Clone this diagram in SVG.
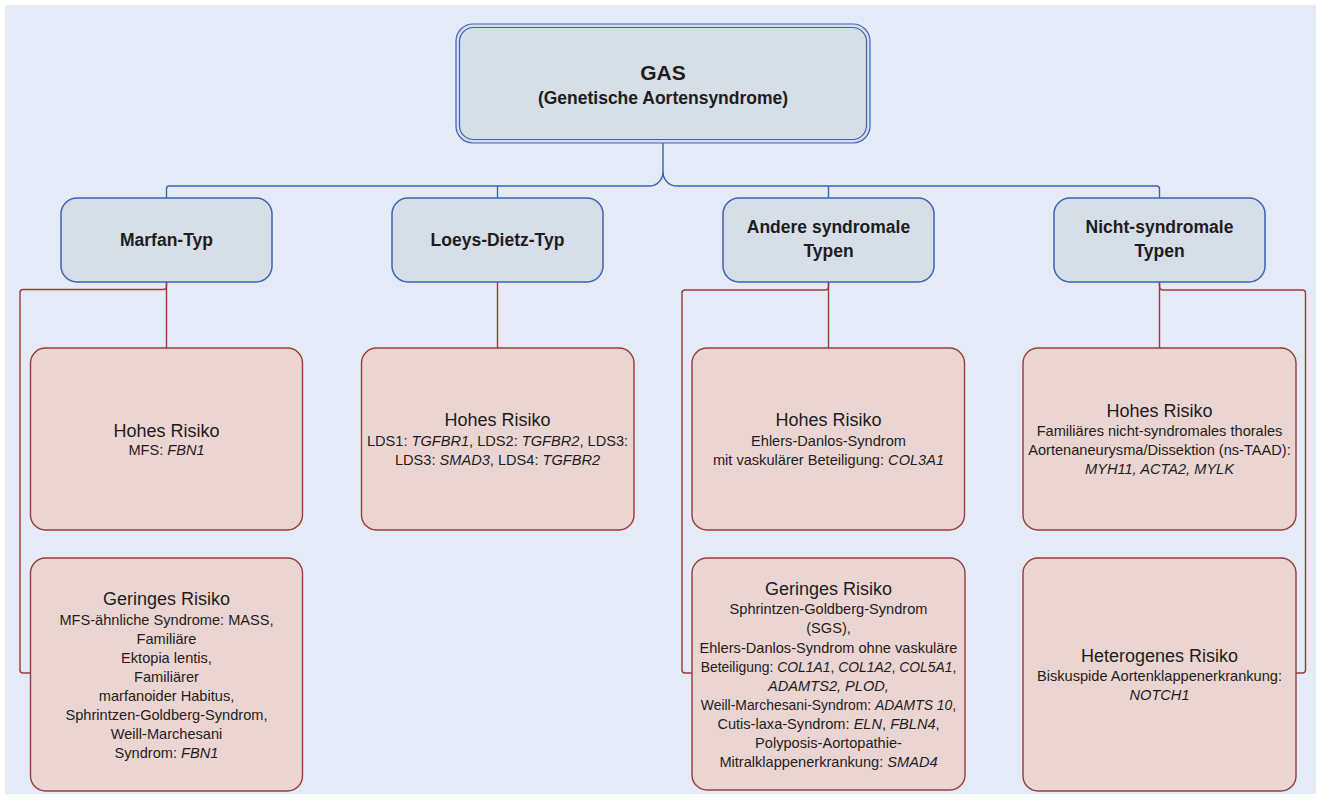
<svg xmlns="http://www.w3.org/2000/svg" width="1320" height="803" viewBox="0 0 1320 803">
<style>
text{font-family:"Liberation Sans",Arial,sans-serif;fill:#1e1c1c;text-anchor:middle}
.bn{fill:#d6dee8;stroke:#3b63b3;stroke-width:1.5}
.rn{fill:#ebd5d2;stroke:#9a3b37;stroke-width:1.4}
.bl{fill:none;stroke:#3b63b3;stroke-width:1.4}
.rl{fill:none;stroke:#9a3b37;stroke-width:1.4}
.h{font-size:17.5px;font-weight:bold}
.t{font-size:18px}
.b{font-size:14.6px}
.s{font-size:13.9px}
.i{font-style:italic}
</style>
<rect x="5" y="5" width="1311" height="789" fill="#e4ebf6"/>
<g id="connectors">
<path class="bl" d="M663,143 V172 A14,14 0 0 1 649,186 H169 Q166.5,186 166.5,189 V198"/>
<path class="bl" d="M663,172 A14,14 0 0 0 677,186 H1156.5 Q1159.5,186 1159.5,189 V198"/>
<path class="bl" d="M497.5,186 V198 M828.5,186 V198"/>
<path class="rl" d="M166.5,282 V348 M497.5,282 V348 M828.5,282 V348 M1159.5,282 V348"/>
<path class="rl" d="M166.5,282 V286 Q166.5,289.5 163,289.5 H23 Q20,289.5 20,292.5 V670 Q20,673 23,673 H30.5"/>
<path class="rl" d="M828.5,282 V286 Q828.5,290 825,290 H685 Q682,290 682,293 V670 Q682,673 685,673 H692"/>
<path class="rl" d="M1159.5,282 V286 Q1159.5,290 1163,290 H1302.5 Q1305.5,290 1305.5,293 V670 Q1305.5,673 1302.5,673 H1296"/>
</g>
<g id="root">
<rect x="456" y="24" width="414" height="119" rx="17" fill="#d6dee8" stroke="#3b63b3" stroke-width="1.2"/>
<rect x="459.5" y="27.5" width="407" height="112" rx="14" fill="none" stroke="#3b63b3" stroke-width="1.2"/>
<text x="663" y="80" style="font-size:21px;font-weight:bold">GAS</text>
<text x="663" y="104" style="font-size:17.5px;font-weight:bold">(Genetische Aortensyndrome)</text>
</g>
<g id="marfan">
<rect class="bn" x="61" y="198" width="211" height="84" rx="16"/>
<text class="h" x="166.5" y="246">Marfan-Typ</text>
</g>
<g id="loeys">
<rect class="bn" x="392" y="198" width="211" height="84" rx="16"/>
<text class="h" x="497.5" y="246">Loeys-Dietz-Typ</text>
</g>
<g id="andere">
<rect class="bn" x="723" y="198" width="211" height="84" rx="16"/>
<text class="h" x="828.5" y="233">Andere syndromale</text>
<text class="h" x="828.5" y="257">Typen</text>
</g>
<g id="nicht">
<rect class="bn" x="1054" y="198" width="211" height="84" rx="16"/>
<text class="h" x="1159.5" y="233">Nicht-syndromale</text>
<text class="h" x="1159.5" y="257">Typen</text>
</g>
<g id="marfan-hohes">
<rect class="rn" x="30.5" y="348" width="272" height="182" rx="15"/>
<text class="t" x="166.5" y="437">Hohes Risiko</text>
<text class="b" x="166.5" y="455">MFS: <tspan class="i">FBN1</tspan></text>
</g>
<g id="marfan-geringes">
<rect class="rn" x="30.5" y="558" width="272" height="233" rx="15"/>
<text class="t" x="166.5" y="605">Geringes Risiko</text>
<text class="b" x="166.5" y="625">MFS-ähnliche Syndrome: MASS,</text>
<text class="b" x="166.5" y="644">Familiäre</text>
<text class="b" x="166.5" y="663">Ektopia lentis,</text>
<text class="b" x="166.5" y="682">Familiärer</text>
<text class="b" x="166.5" y="701">marfanoider Habitus,</text>
<text class="b" x="166.5" y="720">Sphrintzen-Goldberg-Syndrom,</text>
<text class="b" x="166.5" y="739">Weill-Marchesani</text>
<text class="b" x="166.5" y="758">Syndrom: <tspan class="i">FBN1</tspan></text>
</g>
<g id="loeys-hohes">
<rect class="rn" x="361.5" y="348" width="272.5" height="182" rx="15"/>
<text class="t" x="497.5" y="426">Hohes Risiko</text>
<text class="b" x="497.5" y="445.5">LDS1: <tspan class="i">TGFBR1</tspan>, LDS2: <tspan class="i">TGFBR2</tspan>, LDS3:</text>
<text class="b" x="497.5" y="464.5">LDS3: <tspan class="i">SMAD3</tspan>, LDS4: <tspan class="i">TGFBR2</tspan></text>
</g>
<g id="andere-hohes">
<rect class="rn" x="692" y="348" width="272.5" height="182" rx="15"/>
<text class="t" x="828.5" y="426">Hohes Risiko</text>
<text class="b" x="828.5" y="445.5">Ehlers-Danlos-Syndrom</text>
<text class="b" x="828.5" y="464.5">mit vaskulärer Beteiligung: <tspan class="i">COL3A1</tspan></text>
</g>
<g id="andere-geringes">
<rect class="rn" x="692" y="558" width="273" height="232" rx="15"/>
<text class="t" x="828.5" y="595">Geringes Risiko</text>
<text class="b" x="828.5" y="614">Sphrintzen-Goldberg-Syndrom</text>
<text class="b" x="828.5" y="633">(SGS),</text>
<text class="b" x="828.5" y="652.5">Ehlers-Danlos-Syndrom ohne vaskuläre</text>
<text class="s" x="828.5" y="671.5">Beteiligung: <tspan class="i">COL1A1</tspan>, <tspan class="i">COL1A2</tspan>, <tspan class="i">COL5A1</tspan>,</text>
<text class="b i" x="828.5" y="691">ADAMTS2, PLOD,</text>
<text class="s" x="828.5" y="710">Weill-Marchesani-Syndrom: <tspan class="i">ADAMTS 10</tspan>,</text>
<text class="b" x="828.5" y="729">Cutis-laxa-Syndrom: <tspan class="i">ELN</tspan>, <tspan class="i">FBLN4</tspan>,</text>
<text class="b" x="828.5" y="748">Polyposis-Aortopathie-</text>
<text class="b" x="828.5" y="767">Mitralklappenerkrankung: <tspan class="i">SMAD4</tspan></text>
</g>
<g id="nicht-hohes">
<rect class="rn" x="1023" y="348" width="273" height="182" rx="15"/>
<text class="t" x="1159.5" y="417">Hohes Risiko</text>
<text class="b" x="1159.5" y="436">Familiäres nicht-syndromales thorales</text>
<text class="b" x="1159.5" y="455">Aortenaneurysma/Dissektion (ns-TAAD):</text>
<text class="b i" x="1159.5" y="474">MYH11, ACTA2, MYLK</text>
</g>
<g id="nicht-heterogenes">
<rect class="rn" x="1023" y="558" width="273" height="233" rx="15"/>
<text class="t" x="1159.5" y="662">Heterogenes Risiko</text>
<text class="b" x="1159.5" y="681">Biskuspide Aortenklappenerkrankung:</text>
<text class="b i" x="1159.5" y="700">NOTCH1</text>
</g>
</svg>
